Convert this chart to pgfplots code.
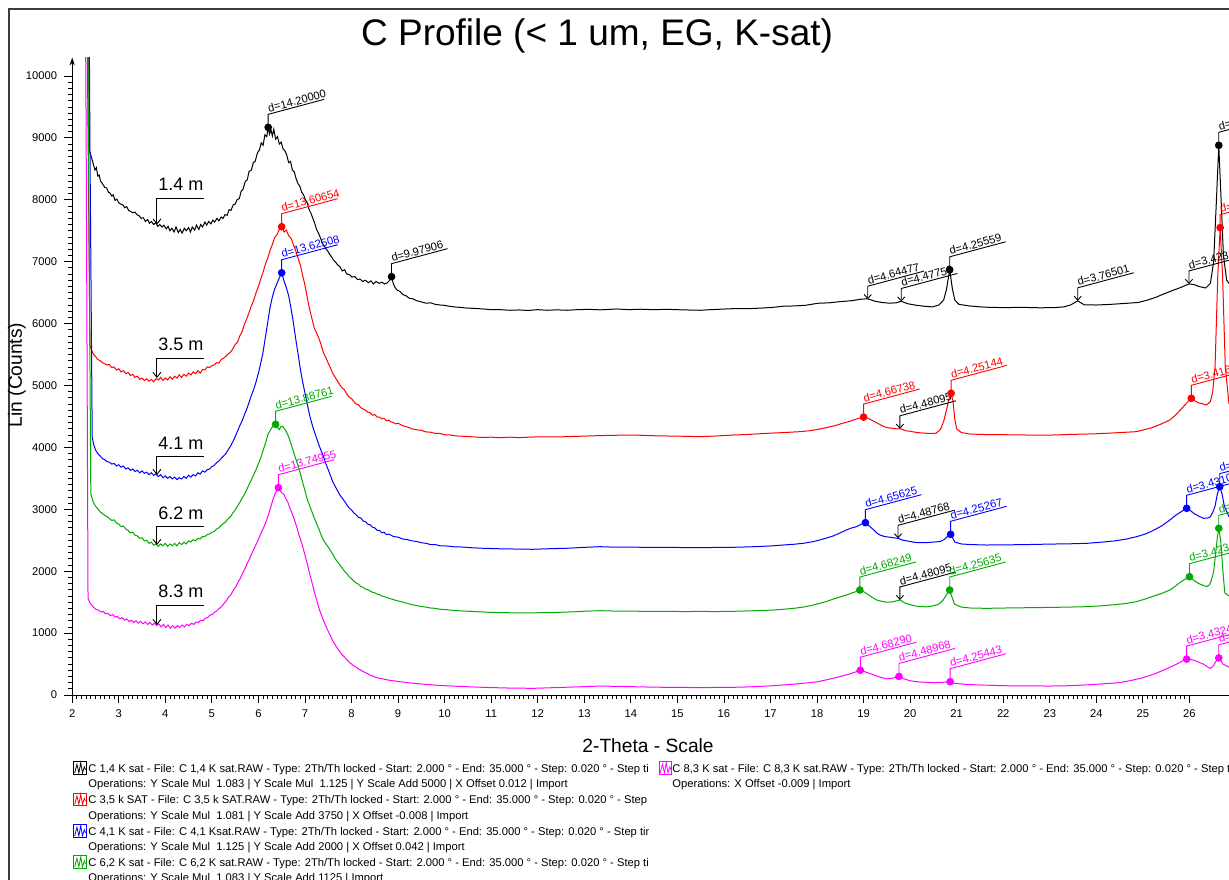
\documentclass[border=0pt]{standalone}
\usepackage{fontspec}
\setmainfont{Liberation Sans}
\usepackage{pgfplots}
\pgfplotsset{compat=1.18}
\usetikzlibrary{arrows.meta}
\definecolor{cblk}{RGB}{0,0,0}
\definecolor{cred}{RGB}{255,0,0}
\definecolor{cblu}{RGB}{0,0,255}
\definecolor{cgrn}{RGB}{0,170,0}
\definecolor{cmag}{RGB}{255,0,255}
\definecolor{framec}{RGB}{60,60,60}
\newcommand\dfont{\fontsize{5.6}{6.5}\selectfont}
\newcommand\legfont{\fontsize{5.6}{6.7}\selectfont}
\newcommand\dlab[4]{\draw[#1,line width=0.45pt] (axis cs:#2,#3) -- ++(0pt,6.5pt) -- ++(15:29pt) node[pos=0,anchor=south west,rotate=15,inner sep=0.5pt,font=\dfont,text=#1]{#4};}
\newcommand\alab[3]{\draw[black,line width=0.45pt,{Straight Barb[length=2pt,width=3.6pt]}-] (axis cs:#1,#2) -- ++(0pt,6.5pt) -- ++(15:29pt) node[pos=0,anchor=south west,rotate=15,inner sep=0.5pt,font=\dfont,text=black]{#3};}
\newcommand\deplab[3]{\draw[black,line width=0.45pt,{Straight Barb[length=2.5pt,width=4pt]}-] (axis cs:3.82,#1) -- (axis cs:3.82,#2) -- (axis cs:4.83,#2);
 \node[anchor=base west,inner sep=0pt,font=\fontsize{9}{10}\selectfont] at ([yshift=3.8pt]axis cs:3.84,#2) {#3};}
\newcommand\legicon[3]{\draw[#1,line width=0.5pt] (#2,#3-3.1pt) rectangle ++(6.25pt,6.25pt);
 \draw[#1,line width=0.4pt] (#2+0.6pt,#3-2.4pt) -- ++(1.1pt,4.2pt) -- ++(1pt,-4.2pt) -- ++(0.9pt,5pt) -- ++(0.9pt,-5pt) -- ++(0.9pt,3pt) -- ++(0.6pt,-1.5pt);}
\begin{document}
\begin{tikzpicture}
\path[use as bounding box] (0,0) rectangle (614.5pt,439.5pt);
\draw[framec,line width=0.8pt] (4.5pt,-2pt) -- (4.5pt,435pt) -- (620pt,435pt);
\begin{axis}[
  at={(36.1pt,92pt)}, anchor=south west,
  scale only axis, width=578.4pt, height=318.8pt,
  xmin=2, xmax=26.85, ymin=0, ymax=10300,
  axis x line*=bottom, axis y line*=left,
  y axis line style={-{Stealth[length=4pt,width=2.6pt]}},
  xtick={2,3,...,26}, ytick={0,1000,...,10000},
  minor x tick num=9, minor y tick num=9,
  tick align=outside, major tick length=4pt, minor tick length=2pt,
  tick style={black,line width=0.4pt},
  scaled y ticks=false, scaled x ticks=false,
  /pgf/number format/assume math mode=true,
  /pgf/number format/1000 sep={},
  tick label style={font=\fontsize{5.6}{6.5}\selectfont},
  title={C Profile (< 1 um, EG, K-sat)},
  title style={at={(axis description cs:0.4537,1.0155)},anchor=center,yshift=0pt,font=\fontsize{18.5}{20}\selectfont,inner sep=0pt},
  xlabel={2-Theta - Scale},
  xlabel style={at={(axis description cs:0.4978,-0.080)},anchor=center,font=\fontsize{9.6}{11}\selectfont,inner sep=0pt},
  ylabel={Lin (Counts)},
  ylabel style={at={(axis description cs:-0.0477,0.502)},anchor=center,font=\fontsize{9.6}{11}\selectfont,inner sep=0pt},
]
% black 1.4 m
\addplot[cblk,line width=0.5pt] coordinates {
(2.28,20000)(2.34,12000)(2.37,8800)(2.40,8720)(2.43,8640)(2.46,8560)(2.49,8480)(2.52,8520)(2.55,8380)(2.58,8400)(2.61,8300)(2.65,8260)(2.70,8200)(2.74,8190)(2.78,8120)(2.81,8110)(2.85,8060)(2.88,8080)(2.92,7990)(2.96,8010)(3.00,7950)(3.04,7930)(3.09,7916)(3.13,7870)(3.17,7890)(3.21,7830)(3.26,7810)(3.30,7790)(3.35,7800)(3.39,7760)(3.44,7740)(3.48,7700)(3.53,7710)(3.57,7650)(3.62,7680)(3.66,7620)(3.70,7650)(3.75,7600)(3.80,7630)(3.84,7570)(3.88,7600)(3.93,7560)(3.97,7590)(4.02,7530)(4.06,7570)(4.10,7500)(4.14,7540)(4.19,7480)(4.23,7560)(4.28,7470)(4.32,7520)(4.36,7460)(4.41,7540)(4.45,7500)(4.50,7550)(4.54,7480)(4.58,7560)(4.63,7510)(4.67,7590)(4.72,7520)(4.76,7600)(4.80,7560)(4.85,7640)(4.89,7590)(4.93,7650)(4.98,7610)(5.02,7670)(5.06,7640)(5.11,7700)(5.15,7660)(5.20,7720)(5.24,7700)(5.28,7760)(5.33,7750)(5.37,7840)(5.41,7830)(5.46,7920)(5.50,7930)(5.54,8000)(5.59,8020)(5.63,8140)(5.67,8170)(5.72,8300)(5.76,8320)(5.80,8460)(5.85,8480)(5.89,8600)(5.93,8620)(5.98,8760)(6.02,8800)(6.06,8920)(6.10,8880)(6.14,9050)(6.18,9020)(6.21,9170)(6.24,9060)(6.27,9130)(6.30,9030)(6.33,9140)(6.37,8980)(6.41,9020)(6.45,8900)(6.49,8930)(6.53,8820)(6.57,8790)(6.61,8720)(6.65,8600)(6.69,8620)(6.73,8480)(6.77,8450)(6.81,8340)(6.85,8260)(6.89,8220)(6.93,8120)(6.97,8080)(7.01,8000)(7.05,7950)(7.09,7840)(7.13,7780)(7.17,7700)(7.21,7620)(7.25,7520)(7.29,7460)(7.33,7390)(7.37,7300)(7.41,7260)(7.45,7210)(7.49,7170)(7.53,7120)(7.57,7080)(7.61,7030)(7.66,6990)(7.70,6950)(7.75,6920)(7.80,6850)(7.85,6870)(7.90,6800)(7.96,6790)(8.01,6750)(8.07,6760)(8.13,6710)(8.18,6720)(8.24,6680)(8.30,6700)(8.36,6660)(8.42,6690)(8.47,6640)(8.53,6680)(8.59,6650)(8.65,6670)(8.71,6640)(8.77,6660)(8.82,6700)(8.86,6758)(8.90,6640)(8.94,6580)(8.98,6540)(9.04,6520)(9.10,6470)(9.17,6450)(9.24,6410)(9.32,6400)(9.40,6370)(9.50,6350)(9.60,6330)(9.70,6335)(9.80,6310)(9.90,6300)(10.00,6295)(10.10,6280)(10.20,6270)(10.35,6260)(10.50,6250)(10.65,6245)(10.83,6236)(11.00,6225)(11.20,6225)(11.40,6215)(11.60,6220)(11.80,6212)(12.00,6225)(12.20,6215)(12.40,6222)(12.62,6215)(12.85,6225)(13.10,6230)(13.35,6222)(13.69,6236)(13.95,6225)(14.20,6232)(14.50,6225)(14.77,6230)(15.10,6222)(15.48,6215)(15.80,6228)(16.20,6241)(16.50,6240)(16.80,6250)(17.05,6262)(17.27,6280)(17.50,6285)(17.75,6295)(18.02,6328)(18.25,6335)(18.50,6355)(18.75,6370)(18.95,6395)(19.09,6400)(19.25,6360)(19.39,6341)(19.55,6330)(19.70,6335)(19.81,6360)(19.95,6320)(20.10,6300)(20.30,6280)(20.48,6270)(20.62,6300)(20.72,6380)(20.78,6550)(20.85,6869)(20.91,6550)(20.96,6380)(21.05,6310)(21.28,6284)(21.60,6265)(22.00,6258)(22.40,6262)(22.80,6255)(23.09,6258)(23.30,6270)(23.45,6302)(23.60,6368)(23.74,6302)(24.00,6300)(24.30,6310)(24.60,6325)(24.90,6341)(25.10,6380)(25.27,6422)(25.45,6480)(25.63,6532)(25.80,6580)(25.99,6640)(26.10,6630)(26.20,6600)(26.35,6575)(26.45,6650)(26.52,7000)(26.58,8000)(26.63,8880)(26.68,8000)(26.73,7100)(26.80,6700)(26.90,6600)};
% red 3.5 m
\addplot[cred,line width=0.5pt] coordinates {
(2.26,20000)(2.33,10000)(2.38,5650)(2.42,5560)(2.46,5500)(2.50,5470)(2.55,5420)(2.60,5400)(2.65,5370)(2.70,5350)(2.75,5330)(2.80,5340)(2.85,5290)(2.90,5300)(2.95,5250)(3.00,5270)(3.05,5220)(3.10,5240)(3.15,5190)(3.20,5210)(3.25,5160)(3.30,5180)(3.35,5130)(3.40,5150)(3.45,5100)(3.50,5120)(3.55,5080)(3.60,5110)(3.65,5070)(3.70,5100)(3.75,5060)(3.80,5110)(3.85,5090)(3.90,5130)(3.95,5080)(4.00,5120)(4.05,5090)(4.10,5140)(4.15,5100)(4.20,5150)(4.25,5120)(4.30,5170)(4.35,5130)(4.40,5180)(4.45,5150)(4.50,5200)(4.55,5170)(4.60,5220)(4.65,5190)(4.70,5240)(4.75,5200)(4.80,5260)(4.85,5250)(4.90,5300)(4.95,5290)(5.00,5320)(5.05,5330)(5.10,5370)(5.15,5360)(5.20,5420)(5.25,5440)(5.30,5470)(5.35,5510)(5.40,5540)(5.45,5590)(5.50,5660)(5.55,5700)(5.60,5800)(5.65,5870)(5.70,5990)(5.75,6080)(5.80,6180)(5.85,6290)(5.90,6380)(5.95,6500)(6.00,6600)(6.05,6720)(6.10,6830)(6.15,6960)(6.20,7060)(6.25,7180)(6.30,7280)(6.35,7390)(6.40,7440)(6.45,7520)(6.50,7565)(6.55,7480)(6.60,7510)(6.65,7420)(6.70,7380)(6.75,7280)(6.80,7180)(6.85,7060)(6.90,6950)(6.95,6780)(7.00,6620)(7.05,6420)(7.10,6230)(7.15,6080)(7.20,5930)(7.25,5850)(7.30,5760)(7.35,5650)(7.40,5520)(7.45,5450)(7.50,5360)(7.55,5280)(7.60,5190)(7.65,5130)(7.70,5070)(7.75,5010)(7.80,4960)(7.85,4930)(7.90,4860)(7.95,4810)(8.00,4790)(8.05,4740)(8.10,4700)(8.15,4690)(8.20,4640)(8.25,4620)(8.30,4600)(8.35,4570)(8.40,4560)(8.45,4520)(8.50,4530)(8.55,4490)(8.60,4490)(8.65,4460)(8.70,4470)(8.75,4430)(8.80,4440)(8.85,4410)(8.90,4400)(8.95,4380)(9.00,4390)(9.10,4350)(9.20,4330)(9.30,4300)(9.40,4285)(9.50,4275)(9.60,4250)(9.70,4245)(9.80,4225)(9.90,4225)(10.00,4205)(10.11,4200)(10.25,4185)(10.40,4180)(10.60,4170)(10.80,4160)(11.00,4165)(11.19,4157)(11.40,4165)(11.60,4158)(11.80,4165)(12.00,4170)(12.30,4168)(12.62,4173)(12.90,4180)(13.30,4190)(13.60,4195)(14.05,4200)(14.40,4190)(14.70,4185)(15.10,4180)(15.48,4173)(15.85,4185)(16.20,4200)(16.55,4210)(16.92,4227)(17.30,4240)(17.63,4254)(17.85,4270)(18.02,4292)(18.20,4320)(18.38,4350)(18.55,4390)(18.70,4420)(18.85,4460)(19.00,4490)(19.10,4470)(19.20,4430)(19.30,4390)(19.40,4350)(19.50,4320)(19.60,4310)(19.70,4300)(19.80,4300)(19.90,4270)(20.00,4260)(20.15,4240)(20.30,4230)(20.45,4225)(20.56,4230)(20.65,4290)(20.72,4420)(20.78,4600)(20.84,4800)(20.88,4874)(20.92,4750)(20.96,4450)(21.00,4300)(21.10,4240)(21.28,4216)(21.60,4208)(22.00,4205)(22.50,4200)(23.07,4200)(23.50,4210)(24.00,4220)(24.40,4235)(24.86,4254)(25.05,4290)(25.20,4320)(25.40,4380)(25.58,4443)(25.70,4520)(25.80,4600)(25.92,4700)(26.04,4793)(26.12,4750)(26.20,4720)(26.30,4700)(26.37,4685)(26.45,4740)(26.50,4900)(26.55,5300)(26.61,6800)(26.66,7550)(26.71,6800)(26.77,5300)(26.85,4700)};
% blue 4.1 m
\addplot[cblu,line width=0.5pt] coordinates {
(2.30,20000)(2.38,9000)(2.43,4168)(2.46,4050)(2.50,3960)(2.55,3900)(2.60,3860)(2.65,3820)(2.70,3800)(2.75,3770)(2.80,3760)(2.85,3730)(2.90,3740)(2.95,3700)(3.00,3720)(3.05,3680)(3.10,3700)(3.15,3650)(3.20,3670)(3.25,3630)(3.30,3650)(3.35,3610)(3.40,3630)(3.45,3590)(3.50,3620)(3.55,3580)(3.60,3600)(3.65,3560)(3.70,3590)(3.75,3550)(3.80,3570)(3.85,3530)(3.90,3560)(3.95,3510)(4.00,3540)(4.05,3500)(4.10,3530)(4.15,3490)(4.20,3520)(4.25,3480)(4.30,3510)(4.35,3490)(4.40,3530)(4.45,3500)(4.50,3550)(4.55,3520)(4.60,3560)(4.65,3540)(4.70,3590)(4.75,3570)(4.80,3620)(4.85,3600)(4.90,3640)(4.95,3650)(5.00,3690)(5.05,3710)(5.10,3750)(5.15,3780)(5.20,3820)(5.25,3860)(5.30,3900)(5.35,3960)(5.40,4020)(5.45,4090)(5.50,4170)(5.55,4260)(5.60,4350)(5.65,4430)(5.70,4530)(5.75,4620)(5.80,4730)(5.85,4840)(5.90,4940)(5.95,5060)(6.00,5200)(6.05,5360)(6.10,5540)(6.15,5780)(6.20,6020)(6.25,6260)(6.30,6430)(6.35,6560)(6.40,6650)(6.45,6740)(6.50,6821)(6.55,6690)(6.60,6580)(6.65,6450)(6.70,6250)(6.75,6020)(6.80,5760)(6.85,5520)(6.90,5270)(6.95,5060)(7.00,4880)(7.05,4700)(7.10,4520)(7.15,4380)(7.20,4260)(7.25,4150)(7.30,4040)(7.35,3940)(7.40,3850)(7.45,3730)(7.50,3640)(7.55,3540)(7.60,3440)(7.65,3370)(7.70,3300)(7.75,3230)(7.80,3180)(7.85,3130)(7.90,3070)(7.95,3020)(8.00,2990)(8.05,2940)(8.10,2910)(8.15,2870)(8.20,2860)(8.25,2810)(8.30,2800)(8.35,2760)(8.40,2750)(8.45,2710)(8.50,2700)(8.55,2660)(8.60,2660)(8.65,2620)(8.70,2630)(8.75,2590)(8.80,2600)(8.90,2560)(9.00,2550)(9.10,2520)(9.20,2510)(9.30,2490)(9.40,2480)(9.50,2460)(9.60,2450)(9.70,2430)(9.80,2430)(9.90,2410)(10.04,2407)(10.20,2395)(10.40,2390)(10.60,2378)(10.83,2370)(11.05,2365)(11.30,2360)(11.55,2358)(11.90,2354)(12.20,2362)(12.60,2370)(13.00,2385)(13.34,2396)(13.65,2388)(14.00,2390)(14.40,2383)(14.77,2386)(15.10,2382)(15.50,2380)(15.85,2384)(16.20,2386)(16.50,2392)(16.80,2400)(17.05,2410)(17.27,2423)(17.50,2435)(17.70,2450)(17.90,2475)(18.06,2504)(18.20,2535)(18.35,2570)(18.50,2620)(18.63,2666)(18.75,2700)(18.85,2720)(18.95,2760)(19.04,2784)(19.12,2730)(19.20,2680)(19.28,2620)(19.35,2585)(19.45,2560)(19.55,2550)(19.65,2540)(19.74,2531)(19.85,2500)(20.00,2480)(20.10,2465)(20.21,2461)(20.35,2462)(20.50,2470)(20.65,2480)(20.73,2510)(20.80,2560)(20.87,2596)(20.92,2530)(20.96,2470)(21.10,2440)(21.30,2430)(21.64,2423)(22.00,2425)(22.50,2430)(23.00,2438)(23.40,2442)(23.79,2450)(24.10,2468)(24.40,2490)(24.65,2520)(24.86,2557)(25.05,2600)(25.20,2650)(25.40,2730)(25.58,2827)(25.70,2900)(25.80,2950)(25.88,2990)(25.94,3016)(26.02,2980)(26.10,2930)(26.20,2890)(26.30,2854)(26.40,2860)(26.45,2880)(26.50,2950)(26.55,3050)(26.60,3250)(26.65,3365)(26.70,3250)(26.75,3050)(26.85,2880)};
% green 6.2 m
\addplot[cgrn,line width=0.5pt] coordinates {
(2.27,20000)(2.34,10000)(2.40,3250)(2.45,3120)(2.50,3050)(2.55,3010)(2.60,2960)(2.65,2930)(2.70,2900)(2.75,2880)(2.80,2850)(2.85,2820)(2.90,2830)(2.95,2780)(3.00,2760)(3.05,2720)(3.10,2730)(3.15,2680)(3.20,2660)(3.25,2620)(3.30,2630)(3.35,2580)(3.40,2570)(3.45,2530)(3.50,2540)(3.55,2490)(3.60,2500)(3.65,2450)(3.70,2470)(3.75,2420)(3.80,2440)(3.85,2400)(3.90,2440)(3.95,2410)(4.00,2450)(4.05,2400)(4.10,2440)(4.15,2410)(4.20,2450)(4.25,2410)(4.30,2460)(4.35,2430)(4.40,2470)(4.45,2440)(4.50,2490)(4.55,2470)(4.60,2510)(4.65,2490)(4.70,2530)(4.75,2520)(4.80,2560)(4.85,2560)(4.90,2590)(4.95,2600)(5.00,2630)(5.05,2640)(5.10,2680)(5.15,2700)(5.20,2740)(5.25,2770)(5.30,2800)(5.35,2850)(5.40,2880)(5.45,2940)(5.50,2990)(5.55,3050)(5.60,3110)(5.65,3180)(5.70,3240)(5.75,3320)(5.80,3400)(5.85,3480)(5.90,3560)(5.95,3640)(6.00,3740)(6.05,3830)(6.10,3950)(6.15,4060)(6.20,4200)(6.25,4270)(6.30,4330)(6.35,4350)(6.37,4373)(6.41,4320)(6.45,4290)(6.49,4340)(6.53,4335)(6.57,4290)(6.61,4240)(6.65,4170)(6.70,4060)(6.75,3940)(6.80,3820)(6.85,3710)(6.90,3580)(6.95,3440)(7.00,3300)(7.05,3160)(7.10,3060)(7.15,2960)(7.20,2860)(7.25,2770)(7.30,2680)(7.35,2580)(7.40,2500)(7.45,2440)(7.50,2390)(7.55,2330)(7.60,2270)(7.65,2200)(7.70,2150)(7.75,2100)(7.80,2050)(7.85,2000)(7.90,1960)(7.95,1910)(8.00,1880)(8.05,1840)(8.10,1810)(8.15,1790)(8.20,1750)(8.25,1740)(8.30,1710)(8.35,1700)(8.40,1680)(8.45,1660)(8.50,1650)(8.55,1630)(8.60,1620)(8.65,1600)(8.70,1590)(8.80,1565)(8.90,1540)(9.00,1520)(9.10,1500)(9.20,1480)(9.30,1460)(9.40,1445)(9.50,1430)(9.60,1420)(9.70,1405)(9.80,1400)(9.90,1385)(10.00,1380)(10.11,1373)(10.30,1360)(10.60,1350)(10.90,1338)(11.19,1330)(11.50,1328)(11.80,1325)(12.05,1330)(12.26,1330)(12.55,1338)(12.80,1345)(13.05,1355)(13.34,1362)(13.65,1356)(14.00,1355)(14.40,1350)(14.77,1352)(15.10,1348)(15.50,1350)(15.85,1348)(16.20,1352)(16.50,1358)(16.80,1365)(17.05,1372)(17.27,1384)(17.50,1400)(17.70,1420)(17.90,1450)(18.06,1481)(18.20,1510)(18.35,1550)(18.50,1585)(18.63,1615)(18.72,1640)(18.80,1660)(18.86,1680)(18.92,1696)(19.00,1670)(19.10,1620)(19.20,1570)(19.28,1535)(19.38,1515)(19.50,1500)(19.62,1505)(19.70,1520)(19.78,1535)(19.88,1490)(20.00,1460)(20.10,1440)(20.21,1427)(20.35,1425)(20.50,1440)(20.62,1470)(20.71,1535)(20.78,1620)(20.85,1696)(20.90,1580)(20.95,1470)(21.10,1420)(21.30,1405)(21.64,1400)(22.00,1405)(22.50,1410)(23.00,1415)(23.40,1420)(23.79,1427)(24.10,1440)(24.40,1460)(24.65,1480)(24.86,1508)(25.05,1550)(25.20,1590)(25.40,1640)(25.58,1696)(25.70,1760)(25.80,1820)(25.90,1870)(26.00,1911)(26.10,1850)(26.20,1800)(26.30,1770)(26.37,1750)(26.43,1780)(26.47,1850)(26.52,2000)(26.55,2200)(26.60,2550)(26.63,2693)(26.67,2500)(26.70,2200)(26.73,1900)(26.76,1648)(26.85,1600)};
% magenta 8.3 m
\addplot[cmag,line width=0.5pt] coordinates {
(2.22,20000)(2.30,9000)(2.34,1560)(2.38,1490)(2.42,1450)(2.47,1410)(2.52,1380)(2.57,1370)(2.62,1340)(2.67,1350)(2.72,1310)(2.77,1320)(2.82,1280)(2.87,1300)(2.92,1260)(2.97,1270)(3.02,1230)(3.07,1250)(3.12,1210)(3.17,1230)(3.22,1190)(3.27,1210)(3.32,1170)(3.37,1200)(3.42,1160)(3.47,1190)(3.52,1150)(3.57,1180)(3.62,1140)(3.67,1170)(3.72,1130)(3.77,1160)(3.81,1120)(3.86,1150)(3.91,1100)(3.96,1140)(4.01,1090)(4.06,1130)(4.11,1080)(4.16,1120)(4.21,1080)(4.26,1120)(4.31,1090)(4.36,1130)(4.41,1100)(4.46,1140)(4.51,1120)(4.56,1160)(4.61,1140)(4.66,1180)(4.71,1170)(4.76,1210)(4.81,1200)(4.86,1240)(4.91,1250)(4.96,1290)(5.01,1300)(5.06,1340)(5.11,1360)(5.16,1400)(5.21,1430)(5.26,1480)(5.31,1520)(5.36,1580)(5.41,1620)(5.46,1690)(5.51,1740)(5.56,1820)(5.61,1880)(5.66,1970)(5.71,2040)(5.76,2130)(5.81,2200)(5.86,2290)(5.91,2370)(5.96,2450)(6.01,2530)(6.06,2620)(6.11,2700)(6.16,2790)(6.21,2900)(6.26,3020)(6.31,3150)(6.36,3258)(6.40,3300)(6.43,3349)(6.47,3300)(6.51,3260)(6.55,3240)(6.59,3170)(6.63,3120)(6.67,3030)(6.71,2960)(6.75,2880)(6.79,2790)(6.83,2700)(6.87,2590)(6.91,2500)(6.95,2400)(7.00,2260)(7.05,2120)(7.10,1960)(7.15,1820)(7.20,1670)(7.25,1540)(7.30,1400)(7.35,1300)(7.40,1200)(7.45,1110)(7.50,1030)(7.55,950)(7.60,870)(7.65,810)(7.70,750)(7.75,700)(7.80,650)(7.85,610)(7.90,570)(7.95,530)(8.00,500)(8.05,470)(8.10,450)(8.15,420)(8.20,400)(8.25,380)(8.30,360)(8.35,345)(8.40,320)(8.45,310)(8.50,290)(8.60,270)(8.70,255)(8.80,240)(8.90,230)(9.00,218)(9.10,210)(9.20,200)(9.30,192)(9.40,185)(9.55,175)(9.76,162)(10.00,150)(10.30,140)(10.55,132)(10.83,124)(11.10,118)(11.40,112)(11.65,110)(11.90,108)(12.20,115)(12.60,125)(13.00,135)(13.34,145)(13.65,140)(14.00,135)(14.40,128)(14.77,124)(15.10,122)(15.50,120)(15.85,122)(16.20,124)(16.50,130)(16.80,140)(17.05,150)(17.27,162)(17.50,175)(17.70,190)(17.85,200)(18.02,215)(18.20,245)(18.40,280)(18.55,310)(18.70,340)(18.82,370)(18.93,400)(19.05,370)(19.20,330)(19.35,290)(19.50,260)(19.62,270)(19.70,290)(19.76,300)(19.85,265)(20.00,230)(20.20,210)(20.50,200)(20.70,205)(20.80,212)(20.86,215)(20.95,190)(21.20,170)(21.60,160)(22.00,150)(22.50,147)(23.00,145)(23.40,150)(23.70,160)(24.10,178)(24.50,200)(24.75,235)(25.00,280)(25.25,340)(25.50,420)(25.70,490)(25.85,550)(25.94,580)(26.02,575)(26.10,560)(26.20,530)(26.30,500)(26.40,450)(26.45,430)(26.50,460)(26.55,520)(26.60,580)(26.63,600)(26.67,560)(26.72,500)(26.85,450)};
% peak markers
\addplot[cblk,only marks,mark=*,mark size=1.7pt] coordinates {(6.21,9170)(8.86,6758)(20.85,6869)(26.63,8880)};
\addplot[cred,only marks,mark=*,mark size=1.7pt] coordinates {(6.50,7565)(19.00,4490)(20.88,4874)(26.04,4793)(26.66,7550)};
\addplot[cblu,only marks,mark=*,mark size=1.7pt] coordinates {(6.50,6821)(19.04,2784)(20.87,2596)(25.94,3016)(26.65,3365)};
\addplot[cgrn,only marks,mark=*,mark size=1.7pt] coordinates {(6.37,4373)(18.92,1696)(20.85,1696)(26.00,1911)(26.63,2693)};
\addplot[cmag,only marks,mark=*,mark size=1.7pt] coordinates {(6.43,3349)(18.93,400)(19.76,300)(20.86,215)(25.94,580)(26.63,600)};
% d labels
\dlab{cblk}{6.21}{9170}{d=14.20000}
\dlab{cblk}{8.86}{6758}{d=9.97906}
\alab{19.09}{6394}{d=4.64477}
\alab{19.81}{6357}{d=4.47759}
\dlab{cblk}{20.85}{6869}{d=4.25559}
\alab{23.60}{6368}{d=3.76501}
\alab{25.99}{6640}{d=3.42310}
\dlab{cblk}{26.63}{8880}{d=3.34376}
\dlab{cred}{6.50}{7565}{d=13.60654}
\dlab{cred}{19.00}{4490}{d=4.66738}
\alab{19.78}{4300}{d=4.48095}
\dlab{cred}{20.88}{4874}{d=4.25144}
\dlab{cred}{26.04}{4793}{d=3.41634}
\dlab{cred}{26.66}{7550}{d=3.33902}
\dlab{cblu}{6.50}{6821}{d=13.62508}
\dlab{cblu}{19.04}{2784}{d=4.65625}
\alab{19.74}{2531}{d=4.48768}
\dlab{cblu}{20.87}{2596}{d=4.25267}
\dlab{cblu}{25.94}{3016}{d=3.43105}
\dlab{cblu}{26.65}{3365}{d=3.34203}
\dlab{cgrn}{6.37}{4373}{d=13.88761}
\dlab{cgrn}{18.92}{1696}{d=4.68249}
\alab{19.78}{1535}{d=4.48095}
\dlab{cgrn}{20.85}{1696}{d=4.25635}
\dlab{cgrn}{26.00}{1911}{d=3.42314}
\dlab{cgrn}{26.63}{2693}{d=3.34310}
\dlab{cmag}{6.43}{3349}{d=13.74955}
\dlab{cmag}{18.93}{400}{d=4.68290}
\dlab{cmag}{19.76}{300}{d=4.48968}
\dlab{cmag}{20.86}{215}{d=4.25443}
\dlab{cmag}{25.94}{580}{d=3.43245}
\dlab{cmag}{26.63}{600}{d=3.34421}
% depth labels
\deplab{7600}{8024}{1.4 m}
\deplab{5121}{5439}{3.5 m}
\deplab{3554}{3850}{4.1 m}
\deplab{2423}{2719}{6.2 m}
\deplab{1131}{1447}{8.3 m}
\end{axis}
% legend
\legicon{cblk}{36.75pt}{55.5pt}
\legicon{cred}{36.75pt}{39.75pt}
\legicon{cblu}{36.75pt}{24pt}
\legicon{cgrn}{36.75pt}{8.5pt}
\legicon{cmag}{329.5pt}{55.5pt}
\begin{scope}
\clip (40pt,-5pt) rectangle (324pt,62pt);
\node[anchor=base west,inner sep=0pt,font=\legfont] at (44pt,53.5pt) {C 1,4 K sat - File: C 1,4 K sat.RAW - Type: 2Th/Th locked - Start: 2.000 ° - End: 35.000 ° - Step: 0.020 ° - Step time: 1. s - Temp.: 25 °C (Room)};
\node[anchor=base west,inner sep=0pt,font=\legfont] at (44pt,45.6pt) {Operations: Y Scale Mul\ \ 1.083 | Y Scale Mul\ \ 1.125 | Y Scale Add 5000 | X Offset 0.012 | Import};
\node[anchor=base west,inner sep=0pt,font=\legfont] at (44pt,37.75pt) {C 3,5 k SAT - File: C 3,5 k SAT.RAW - Type: 2Th/Th locked - Start: 2.000 ° - End: 35.000 ° - Step: 0.020 ° - Step time: 1. s - Temp.: 25 °C (Room)};
\node[anchor=base west,inner sep=0pt,font=\legfont] at (44pt,29.9pt) {Operations: Y Scale Mul\ \ 1.081 | Y Scale Add 3750 | X Offset -0.008 | Import};
\node[anchor=base west,inner sep=0pt,font=\legfont] at (44pt,22pt) {C 4,1 K sat - File: C 4,1 Ksat.RAW - Type: 2Th/Th locked - Start: 2.000 ° - End: 35.000 ° - Step: 0.020 ° - Step time: 1. s - Temp.: 25 °C (Room)};
\node[anchor=base west,inner sep=0pt,font=\legfont] at (44pt,14.2pt) {Operations: Y Scale Mul\ \ 1.125 | Y Scale Add 2000 | X Offset 0.042 | Import};
\node[anchor=base west,inner sep=0pt,font=\legfont] at (44pt,6.4pt) {C 6,2 K sat - File: C 6,2 K sat.RAW - Type: 2Th/Th locked - Start: 2.000 ° - End: 35.000 ° - Step: 0.020 ° - Step time: 1. s - Temp.: 25 °C (Room)};
\node[anchor=base west,inner sep=0pt,font=\legfont] at (44pt,-1.4pt) {Operations: Y Scale Mul\ \ 1.083 | Y Scale Add 1125 | Import};
\end{scope}
\node[anchor=base west,inner sep=0pt,font=\legfont] at (336pt,53.5pt) {C 8,3 K sat - File: C 8,3 K sat.RAW - Type: 2Th/Th locked - Start: 2.000 ° - End: 35.000 ° - Step: 0.020 ° - Step time: 1. s - Temp.: 25 °C (Room)};
\node[anchor=base west,inner sep=0pt,font=\legfont] at (336pt,45.6pt) {Operations: X Offset -0.009 | Import};
\end{tikzpicture}
\end{document}
